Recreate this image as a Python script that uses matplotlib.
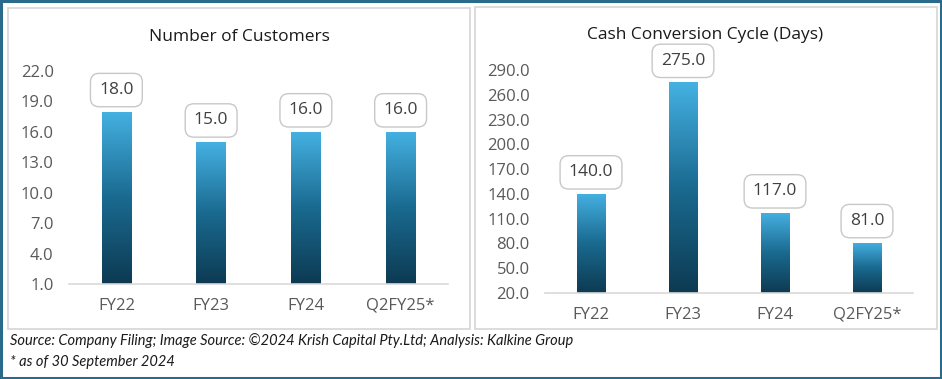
import numpy as np
import matplotlib
matplotlib.use("Agg")
import matplotlib.pyplot as plt
from matplotlib.patches import Rectangle
from matplotlib.colors import LinearSegmentedColormap

categories = ["FY22", "FY23", "FY24", "Q2FY25*"]
customers = [18.0, 15.0, 16.0, 16.0]
ccc_days = [140.0, 275.0, 117.0, 81.0]

cust_ticks = [1.0, 4.0, 7.0, 10.0, 13.0, 16.0, 19.0, 22.0]
ccc_ticks = [20.0, 50.0, 80.0, 110.0, 140.0, 170.0, 200.0, 230.0, 260.0, 290.0]

W, H = 942, 379
plt.rcParams["font.family"] = ["Open Sans", "DejaVu Sans"]

grad = LinearSegmentedColormap.from_list("bar", ["#0d3a52", "#1a6a90", "#45b1e2"])


def px_axes(fig, x0, x1, ytop, ybot):
    return fig.add_axes([x0 / W, 1 - ybot / H, (x1 - x0) / W, (ybot - ytop) / H])


def draw_panel(ax, values, ticks, title_y, title_x, title):
    ax.set_xlim(-0.5, len(categories) - 0.5)
    ax.set_ylim(ticks[0], ticks[-1])
    bars = ax.bar(range(len(categories)), values, width=0.31, bottom=0,
                  color="none", edgecolor="none")
    g = np.linspace(0, 1, 256).reshape(-1, 1)
    for b in bars:
        x, w, h = b.get_x(), b.get_width(), b.get_height()
        im = ax.imshow(g, cmap=grad, aspect="auto", origin="lower",
                       extent=[x, x + w, ticks[0], h], zorder=2)
        im.set_clip_path(b)
    for i, v in enumerate(values):
        ax.annotate(f"{v:.1f}", (i, v), xytext=(0, 15.5), textcoords="offset points",
                    ha="center", va="center", fontsize=12.5, color="#404040",
                    bbox=dict(boxstyle="round,pad=0.5,rounding_size=0.5",
                              fc="white", ec="#c8c8c8", lw=1.0), zorder=5)
    ax.set_yticks(ticks)
    ax.set_yticklabels([f"{t:.1f}" for t in ticks])
    ax.set_xticks(range(len(categories)))
    ax.set_xticklabels(categories)
    ax.tick_params(axis="y", length=0, pad=11, labelsize=12, labelcolor="#595959")
    ax.tick_params(axis="x", length=0, pad=10, labelsize=12, labelcolor="#595959")
    for s in ["top", "right", "left"]:
        ax.spines[s].set_visible(False)
    ax.spines["bottom"].set_color("#d9d9d9")
    ax.spines["bottom"].set_linewidth(1.2)
    ax.spines["bottom"].set_zorder(3)
    fig.text(title_x / W, 1 - title_y / H, title, ha="center", va="center",
             fontsize=12.5, color="#1a1a1a")


fig = plt.figure(figsize=(W / 100, H / 100), dpi=100)
fig.patch.set_facecolor("white")

# outer frame and panel frames
fig.patches.append(Rectangle((1 / W, 1.5 / H), (W - 2.5) / W, (H - 2.5) / H,
                             transform=fig.transFigure, fill=False,
                             ec="#2a6b8b", lw=2.2))
fig.patches.append(Rectangle((8 / W, 1 - 329 / H), 462 / W, 321 / H,
                             transform=fig.transFigure, fill=False,
                             ec="#d9d9d9", lw=1.3))
fig.patches.append(Rectangle((475 / W, 1 - 329 / H), 462 / W, 322 / H,
                             transform=fig.transFigure, fill=False,
                             ec="#d9d9d9", lw=1.3))

ax1 = px_axes(fig, 69, 448, 71, 284)
draw_panel(ax1, customers, cust_ticks, 37, 239, "Number of Customers")

ax2 = px_axes(fig, 545, 913, 70, 293)
draw_panel(ax2, ccc_days, ccc_ticks, 35, 705, "Cash Conversion Cycle (Days)")

foot = ["Lato", "DejaVu Sans"]
fig.text(10 / W, 1 - 341 / H,
         "Source: Company Filing; Image Source: \u00a92024 Krish Capital Pty.Ltd; Analysis: Kalkine Group",
         ha="left", va="center", fontsize=10.5, style="italic", color="#1a1a1a", family=foot)
fig.text(10 / W, 1 - 362 / H, "* as of 30 September 2024",
         ha="left", va="center", fontsize=10.5, style="italic", color="#1a1a1a", family=foot)

fig.savefig("out.png", dpi=100)
